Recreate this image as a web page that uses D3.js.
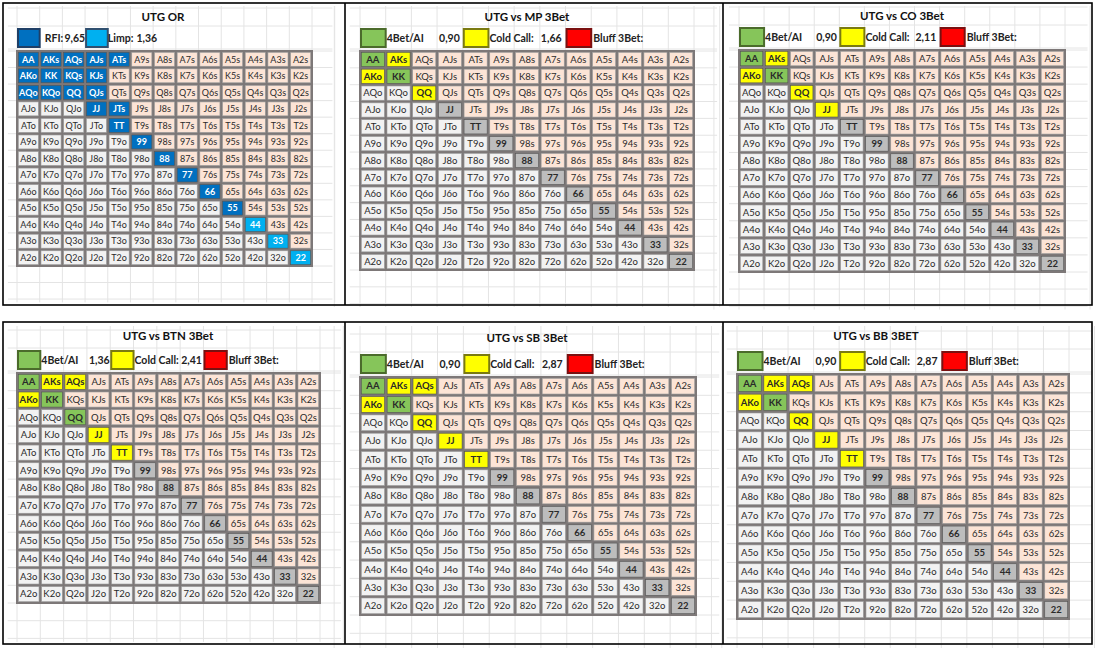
<!DOCTYPE html>
<html>
<head>
<meta charset="utf-8">
<script src="https://cdn.jsdelivr.net/npm/d3@7"></script>
<style>
  body { margin: 0; background: #fff; }
  svg text { font-family: Lato, "Noto Sans", sans-serif; }
</style>
</head>
<body>
<div id="chart"></div>
<script>
// hand ranks (rows / columns of every chart)
var ranks = ["A", "K", "Q", "J", "T", "9", "8", "7", "6", "5", "4", "3", "2"];

// panel titles
var titles = ["UTG OR", "UTG vs MP 3Bet", "UTG vs CO 3Bet", "UTG vs BTN 3Bet", "UTG vs SB 3Bet", "UTG vs BB 3BET"];

// open raise panel
var openLabels = ["RFI:", "Limp:"];
var openValues = ["9,65", "1,36"];
var raiseHands = ["AA", "AKs", "AQs", "AJs", "ATs", "AKo", "KK", "KQs", "KJs", "AQo", "KQo", "QQ", "QJs",
  "JJ", "JTs", "TT", "99", "88", "77", "66", "55"];
var limpHands = ["44", "33", "22"];

// 3bet panels
var defLabels = ["4Bet/AI", "Cold Call:", "Bluff 3Bet:"];
var fourBetValues = ["0,90", "0,90", "1,36", "0,90", "0,90"];
var coldCallValues = ["1,66", "2,11", "2,41", "2,87", "2,87"];
var fourBetHands = [
  ["AA", "KK"],
  ["AA", "KK"],
  ["AA", "KK", "QQ"],
  ["AA", "KK"],
  ["AA", "KK"]
];
var coldCallHands = [
  ["AKs", "AKo", "QQ"],
  ["AKs", "AKo", "QQ", "JJ"],
  ["AKs", "AQs", "AKo", "JJ", "TT"],
  ["AKs", "AQs", "AKo", "QQ", "JJ", "TT"],
  ["AKs", "AQs", "AKo", "QQ", "JJ", "TT"]
];

// layout of each panel: grid box, title position
var layout = [
  {x0: 17, x1: 312, y0: 51, y1: 266, tx: 163, ty: 17},
  {x0: 360, x1: 694, y0: 51, y1: 270, tx: 527, ty: 17},
  {x0: 739, x1: 1065, y0: 50, y1: 272, tx: 902, ty: 16},
  {x0: 17, x1: 320, y0: 373, y1: 603, tx: 168, ty: 336},
  {x0: 360, x1: 696, y0: 377, y1: 615, tx: 527, ty: 338},
  {x0: 737, x1: 1069, y0: 374, y1: 619, tx: 876, ty: 336}
];

var col = {
  blue: "#0070c0", lightblue: "#00b0f0", green: "#86c55a", yellow: "#ffff00", red: "#ff0000",
  suited: "#fce4d6", offsuit: "#f2f2f2", pair: "#bdbdbd", faint: "#e4e4e4"
};

function hand(i, j) {
  if (i === j) return ranks[i] + ranks[j];
  if (j > i) return ranks[i] + ranks[j] + "s";
  return ranks[j] + ranks[i] + "o";
}

var svg = d3.select("#chart").append("svg")
  .attr("width", 1095)
  .attr("height", 648);

var cells = d3.cross(d3.range(13), d3.range(13)).map(function(d) {
  return {row: d[0], col: d[1], label: hand(d[0], d[1])};
});

layout.forEach(function(p, k) {
  var g = svg.append("g");
  var x = d3.scaleBand().domain(d3.range(13)).range([p.x0, p.x1]);
  var y = d3.scaleBand().domain(d3.range(13)).range([p.y0, p.y1]);
  var cw = x.bandwidth(), ch = y.bandwidth();

  // faint spreadsheet lines
  var vlines = d3.range(-1, 15).map(function(c) { return p.x0 + c * cw; });
  var top = k < 3 ? 6 : 326;
  var bottom = p.y1 + ch * 2.2;
  g.selectAll(".vl").data(vlines).enter().append("line")
    .attr("x1", function(d) { return d; }).attr("x2", function(d) { return d; })
    .attr("y1", top).attr("y2", bottom)
    .attr("stroke", col.faint).attr("stroke-width", 1);
  var hlines = [p.y0 - 43, p.y0 - 25, p.y0 - 2].concat(d3.range(0, 16).map(function(r) { return p.y0 + r * ch; }));
  g.selectAll(".hl").data(hlines).enter().append("line")
    .attr("x1", p.x0 - cw * 0.4).attr("x2", p.x1 + cw * 0.9)
    .attr("y1", function(d) { return d; }).attr("y2", function(d) { return d; })
    .attr("stroke", col.faint).attr("stroke-width", 1);

  // title
  g.append("text")
    .attr("x", p.tx).attr("y", p.ty + 4)
    .attr("text-anchor", "middle")
    .attr("font-size", 11.5).attr("font-weight", "bold").attr("fill", "#111")
    .text(titles[k]);

  // legend
  var by0 = p.y0 - 22, bh = 18;
  var items;
  if (k === 0) {
    items = [
      {box: col.blue, edge: "#1f3f66", c: 0},
      {text: openLabels[0], c: 1, dx: 5},
      {text: openValues[0], c: 2, dx: 2},
      {box: col.lightblue, edge: "#2f4f6f", c: 3},
      {text: openLabels[1], c: 4, dx: 0},
      {text: openValues[1], c: 5, dx: 6}
    ];
  } else {
    items = [
      {box: col.green, edge: "#4b6b2b", c: 0},
      {text: defLabels[0], c: 1, dx: 1},
      {text: fourBetValues[k - 1], c: 3, dx: 2},
      {box: col.yellow, edge: "#7a7a10", c: 4},
      {text: defLabels[1], c: 5, dx: 1},
      {text: coldCallValues[k - 1], c: 7, dx: 1},
      {box: col.red, edge: "#7a1010", c: 8},
      {text: defLabels[2], c: 9, dx: 2}
    ];
  }
  items.forEach(function(it) {
    if (it.box) {
      g.append("rect")
        .attr("x", x(it.c) + 1).attr("y", by0)
        .attr("width", cw - 1).attr("height", bh)
        .attr("fill", it.box).attr("stroke", it.edge).attr("stroke-width", 2);
    } else {
      g.append("text")
        .attr("x", x(it.c) + it.dx).attr("y", by0 + bh / 2 + 4)
        .attr("font-size", 10.5).attr("font-weight", "bold").attr("fill", "#222")
        .text(it.text);
    }
  });

  function fillOf(d) {
    if (k === 0) {
      if (raiseHands.indexOf(d.label) >= 0) return col.blue;
      if (limpHands.indexOf(d.label) >= 0) return col.lightblue;
    } else {
      if (fourBetHands[k - 1].indexOf(d.label) >= 0) return col.green;
      if (coldCallHands[k - 1].indexOf(d.label) >= 0) return col.yellow;
      if (d.row === d.col) return col.pair;
    }
    return d.col > d.row ? col.suited : col.offsuit;
  }
  function marked(d) {
    var f = fillOf(d);
    return f !== col.suited && f !== col.offsuit;
  }

  // grid background
  g.append("rect")
    .attr("x", p.x0 - 1).attr("y", p.y0 - 1)
    .attr("width", p.x1 - p.x0 + 2).attr("height", p.y1 - p.y0 + 2)
    .attr("fill", "#7d7878");

  var cg = g.selectAll(".cell").data(cells).enter().append("g");
  cg.append("rect")
    .attr("x", function(d) { return x(d.col) + 1.3; })
    .attr("y", function(d) { return y(d.row) + 1.3; })
    .attr("width", cw - 2.6).attr("height", ch - 2.6)
    .attr("fill", fillOf)
    .attr("stroke", function(d) { return marked(d) ? "#555" : "#9a9a9a"; })
    .attr("stroke-width", 0.6);
  cg.append("text")
    .attr("x", function(d) { return x(d.col) + cw / 2; })
    .attr("y", function(d) { return y(d.row) + ch / 2 + 3.3; })
    .attr("text-anchor", "middle")
    .attr("font-size", k === 0 ? 9 : 9.5)
    .attr("font-weight", function(d) { return marked(d) ? "bold" : "normal"; })
    .attr("fill", function(d) {
      var f = fillOf(d);
      return (f === col.blue || f === col.lightblue) ? "#fff" : "#2a2a2a";
    })
    .text(function(d) { return d.label; });
});

// panel frames
var frame = svg.append("g").attr("fill", "none").attr("stroke", "#000").attr("stroke-width", 1.6);
[[3, 305], [322, 644]].forEach(function(r) {
  frame.append("rect").attr("x", 3).attr("y", r[0]).attr("width", 1089).attr("height", r[1] - r[0]);
  [345, 723].forEach(function(xv) {
    frame.append("line").attr("x1", xv).attr("x2", xv).attr("y1", r[0]).attr("y2", r[1]);
  });
});
</script>
</body>
</html>
